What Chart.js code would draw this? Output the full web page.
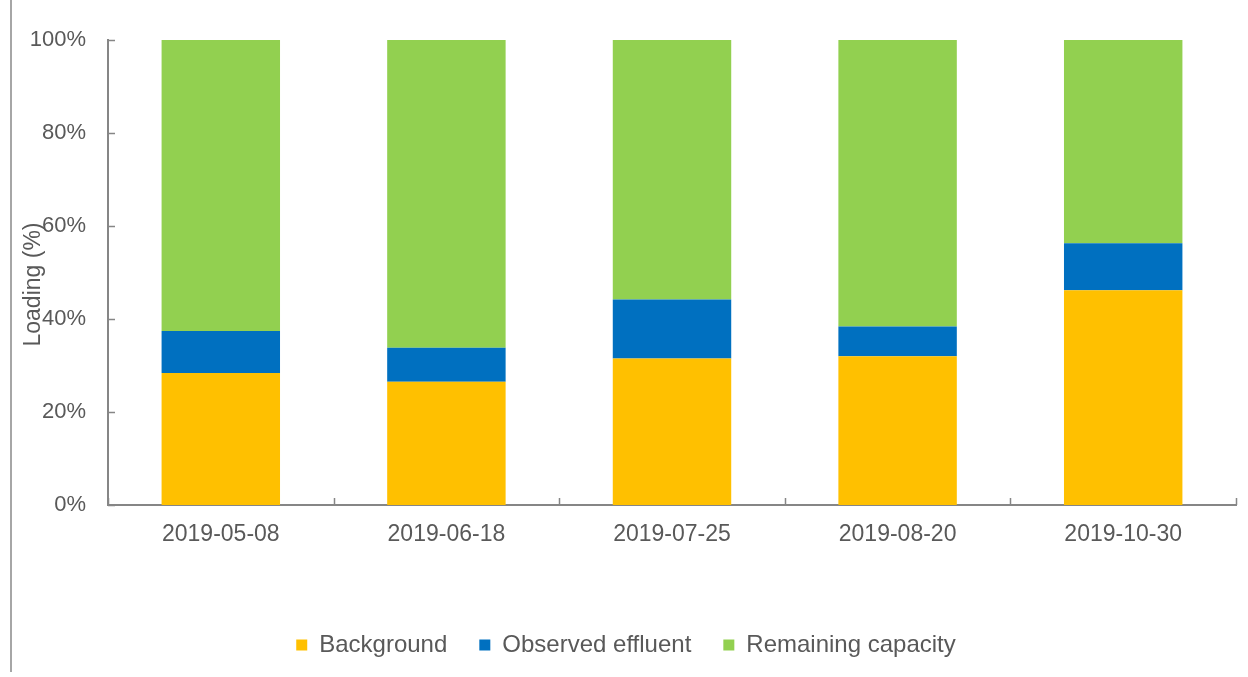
<!DOCTYPE html>
<html>
<head>
<meta charset="utf-8">
<script src="https://cdn.jsdelivr.net/npm/chart.js@4"></script>
<style>
  html, body { margin: 0; padding: 0; background: #ffffff; }
  #wrap { position: relative; width: 1248px; height: 677px; }
  #frame { position: absolute; left: 10px; top: 0; width: 0; height: 672px; border-left: 2px solid #a6a6a6; }
</style>
</head>
<body>
<div id="wrap">
  <div id="frame"></div>
  <canvas id="loadChart" width="1248" height="677"></canvas>
</div>
<script>
// sample dates
const dates = ['2019-05-08', '2019-06-18', '2019-07-25', '2019-08-20', '2019-10-30'];

// loading shares, percent of capacity
const background = [28.4, 26.5, 31.5, 32.0, 46.2];
const observed_effluent = [9.0, 7.3, 12.7, 6.4, 10.1];
const remaining_capacity = [62.6, 66.2, 55.8, 61.6, 43.7];

const y_ticks = [0, 20, 40, 60, 80, 100];

const text_color = '#595959';
const axis_color = '#868686';
const font_family = '"Liberation Sans", Arial, sans-serif';

// Excel-like inward tick marks and the rotated axis title
const axis_decor = {
    id: 'axis_decor',
    afterDraw(chart) {
        const ctx = chart.ctx;
        const area = chart.chartArea;
        const xs = chart.scales.x;
        const ys = chart.scales.y;
        ctx.save();
        ctx.strokeStyle = axis_color;
        ctx.lineWidth = 1.5;
        ctx.beginPath();
        for (let i = 0; i <= dates.length; i++) {
            const px = Math.round(xs.getPixelForValue(i - 0.5)) + 0.5;
            ctx.moveTo(px, area.bottom);
            ctx.lineTo(px, area.bottom - 7);
        }
        for (const t of y_ticks) {
            const py = Math.round(ys.getPixelForValue(t)) + 0.5;
            ctx.moveTo(area.left, py);
            ctx.lineTo(area.left + 7, py);
        }
        ctx.stroke();

        ctx.fillStyle = text_color;
        ctx.font = '23px ' + font_family;
        ctx.textAlign = 'center';
        ctx.textBaseline = 'middle';
        ctx.translate(34, (area.top + area.bottom) / 2 + 12);
        ctx.rotate(-Math.PI / 2);
        ctx.fillText('Loading (%)', 0, 0);
        ctx.restore();
    }
};

function plot_loading() {
    const ctx = document.getElementById('loadChart').getContext('2d');
    const bar_opts = { categoryPercentage: 1.0, barPercentage: 0.525, borderWidth: 0 };
    return new Chart(ctx, {
        type: 'bar',
        data: {
            labels: dates,
            datasets: [
                Object.assign({ label: 'Background', data: background, backgroundColor: '#ffc000' }, bar_opts),
                Object.assign({ label: 'Observed effluent', data: observed_effluent, backgroundColor: '#0070c0' }, bar_opts),
                Object.assign({ label: 'Remaining capacity', data: remaining_capacity, backgroundColor: '#92d050' }, bar_opts)
            ]
        },
        options: {
            responsive: false,
            animation: false,
            layout: { padding: { left: 16, right: 12, top: 40, bottom: 10 } },
            plugins: {
                tooltip: { enabled: false },
                legend: {
                    position: 'bottom',
                    labels: {
                        boxWidth: 11,
                        boxHeight: 11,
                        padding: 32,
                        color: text_color,
                        font: { family: font_family, size: 24 }
                    }
                }
            },
            scales: {
                x: {
                    stacked: true,
                    grid: { display: false },
                    border: { display: true, color: axis_color, width: 2 },
                    ticks: {
                        color: text_color,
                        padding: 8,
                        font: { family: font_family, size: 23 }
                    },
                    afterFit(scale) { scale.height = 96; }
                },
                y: {
                    stacked: true,
                    min: 0,
                    max: 100,
                    afterBuildTicks(scale) {
                        scale.ticks = y_ticks.map(v => ({ value: v }));
                    },
                    afterFit(scale) { scale.width = 92; },
                    grid: { display: false },
                    border: { display: true, color: axis_color, width: 2 },
                    ticks: {
                        color: text_color,
                        padding: 14,
                        font: { family: font_family, size: 22 },
                        callback: v => v + '%'
                    }
                }
            }
        },
        plugins: [axis_decor]
    });
}

plot_loading();
</script>
</body>
</html>
